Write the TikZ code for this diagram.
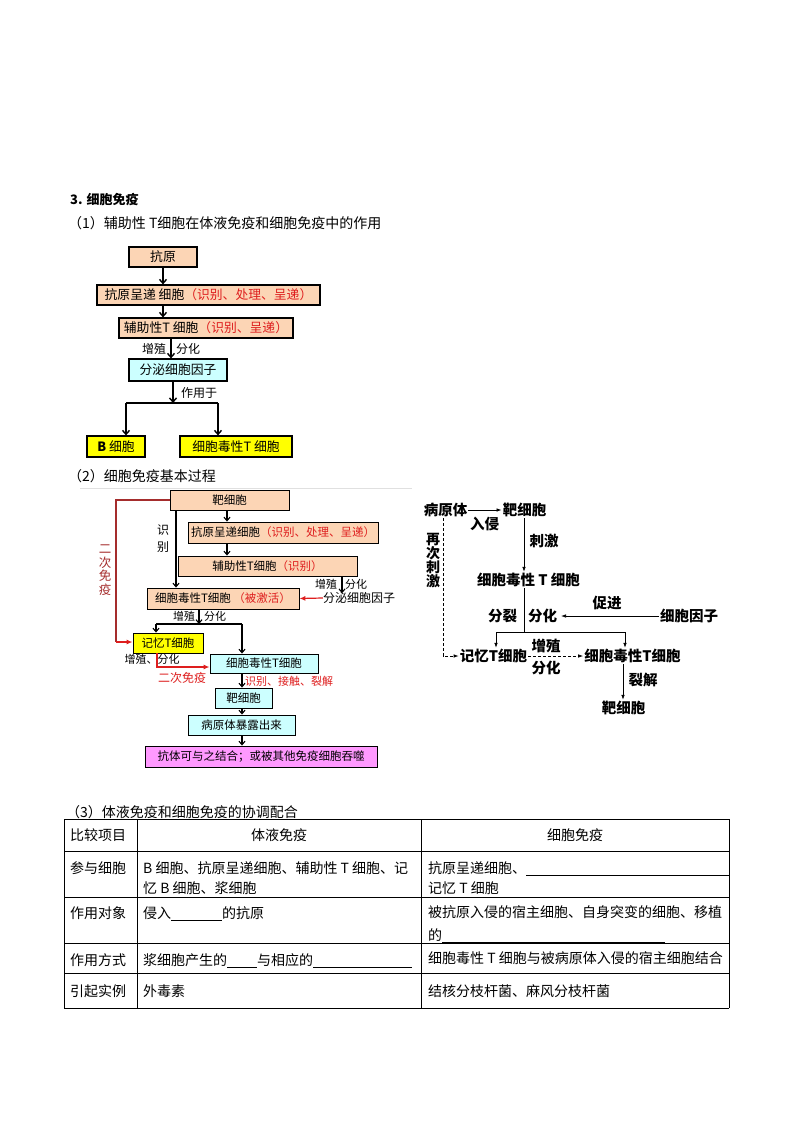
\documentclass[tikz,border=0pt]{standalone}
\usepackage{fontspec}
\setmainfont{Noto Sans CJK SC}
\usetikzlibrary{arrows.meta}
\definecolor{peach}{RGB}{252,213,181}
\definecolor{lcyan}{RGB}{204,255,255}
\definecolor{yel}{RGB}{255,255,0}
\definecolor{mag}{RGB}{255,153,255}
\definecolor{redtxt}{RGB}{222,30,30}
\definecolor{dred}{RGB}{165,45,45}
\newcommand{\rt}[1]{\textcolor{redtxt}{#1}}
\begin{document}
\begin{tikzpicture}[x=1pt,y=-1pt,
  tbox/.style={draw=black, line width=1.2pt, inner sep=0pt, font=\fontsize{12.8}{14}\selectfont},
  mbox/.style={draw=black, line width=0.9pt, inner sep=0pt, font=\fontsize{11.5}{13}\selectfont},
  tlab/.style={inner sep=0pt, font=\fontsize{12}{13}\selectfont},
  mlab/.style={inner sep=0pt, font=\fontsize{11}{12}\selectfont},
  rlab/.style={inner sep=1pt, font=\fontsize{14.5}{16}\selectfont\bfseries},
  tcell/.style={inner sep=0pt, anchor=west, font=\fontsize{14}{16}\selectfont},
  head/.style={inner sep=0pt, anchor=west, font=\fontsize{14}{16}\selectfont},
  tarr/.style={line width=1.6pt, -{Straight Barb[length=4pt,width=7pt,line width=1.4pt]}},
  tline/.style={line width=1.6pt},
  marr/.style={line width=1.1pt, -{Straight Barb[length=3.5pt,width=6pt,line width=1.1pt]}},
  mline/.style={line width=1.1pt},
  redarr/.style={line width=1.2pt, redtxt, -{Latex[length=6pt,width=5pt]}},
  rarr/.style={line width=0.7pt, -{Latex[length=5pt,width=3.5pt]}},
  rline/.style={line width=0.7pt},
  grid/.style={line width=0.8pt, black}
]
\useasboundingbox (0,0) rectangle (794,1123);
\fill[white] (0,0) rectangle (794,1123);

% ---------- headings ----------
\node[head, font=\fontsize{13}{15}\selectfont\bfseries] (h0) at (70,200) {3. 细胞免疫};
\node[head] (h1) at (68,223) {（1）辅助性 T细胞在体液免疫和细胞免疫中的作用};
\node[head] (h2) at (68,476) {（2）细胞免疫基本过程};
\node[head] (h3) at (66,812) {（3）体液免疫和细胞免疫的协调配合};

% ---------- top flowchart ----------
\node[tbox, fill=peach, minimum width=68, minimum height=20] (a1) at (163,257) {抗原};
\node[tbox, fill=peach, minimum width=223, minimum height=20] (a2) at (208.5,295) {抗原呈递 细胞\rt{（识别、处理、呈递）}};
\node[tbox, fill=peach, minimum width=174, minimum height=20] (a3) at (206,328) {辅助性T 细胞\rt{（识别、呈递）}};
\node[tbox, fill=lcyan, minimum width=98, minimum height=22] (a4) at (178,370) {分泌细胞因子};
\node[tbox, fill=yel, minimum width=58, minimum height=21] (a5) at (116,446.5) {\textbf{B} 细胞};
\node[tbox, fill=yel, minimum width=112, minimum height=21] (a6) at (236,446.5) {细胞毒性T 细胞};

\draw[tarr] (a1.south) -- (a1.south |- a2.north);
\draw[tarr] (a2.south -| a1) -- (a1 |- a3.north);
\coordinate (ja) at (171,0);
\draw[tarr] (a3.south -| ja) -- (a4.north -| ja);
\node[tlab] (l1) at (154,349) {增殖};
\node[tlab] (l2) at (188,349) {分化};
\coordinate (j1) at (173,403);
\coordinate (jl) at (126,403);
\coordinate (jr) at (218,403);
\draw[tarr] (a4.south -| j1) -- (j1);
\node[tlab] (l3) at (199,393) {作用于};
\draw[tline] (jl) -- (jr);
\draw[tarr] (jl) -- (jl |- a5.north);
\draw[tarr] (jr) -- (jr |- a6.north);

% ---------- middle-left diagram ----------
\draw[black!12, line width=0.8pt] (80,488) -- (412,488);
\node[mbox, fill=peach, minimum width=119, minimum height=20] (m1) at (229.5,500) {靶细胞};
\node[mbox, fill=peach, minimum width=190, minimum height=21] (m2) at (283,532.5) {抗原呈递细胞\rt{（识别、处理、呈递）}};
\node[mbox, fill=peach, minimum width=179, minimum height=20] (m3) at (267.5,566) {辅助性T细胞\rt{（识别）}};
\node[mbox, fill=peach, minimum width=152, minimum height=21] (m4) at (223,598.5) {细胞毒性T细胞 \rt{（被激活）}};
\node[mbox, fill=yel, minimum width=70, minimum height=20] (m5) at (168,643) {记忆T细胞};
\node[mbox, fill=lcyan, minimum width=108, minimum height=19] (m6) at (264,663.5) {细胞毒性T细胞};
\node[mbox, fill=lcyan, minimum width=57, minimum height=20] (m7) at (243.5,698) {靶细胞};
\node[mbox, fill=lcyan, minimum width=107, minimum height=20] (m8) at (241.5,725) {病原体暴露出来};
\node[mbox, fill=mag, minimum width=232, minimum height=21] (m9) at (261,756.5) {抗体可与之结合；或被其他免疫细胞吞噬};

\coordinate (xa) at (227,0);
\draw[marr] (m1.south -| xa) -- (m2.north -| xa);
\draw[marr] (m2.south -| xa) -- (m3.north -| xa);
\coordinate (xb) at (176,0);
\draw[marr] (m1.south -| xb) -- (m4.north -| xb);
\node[mlab, font=\fontsize{12}{17}\selectfont, align=center] (shib) at (163,539) {识\\别};

\node[mlab, font=\fontsize{12}{12}\selectfont] (m10) at (359,598) {分泌细胞因子};
\coordinate (xc) at (342,0);
\draw[marr] (m3.south -| xc) -- ([yshift=-1pt]m10.north -| xc);
\node[mlab] (l4) at (326,584) {增殖};
\node[mlab] (l5) at (356,584) {分化};
\draw[redarr] (m10.west) -- (m4.east);

\coordinate (j2) at (199,624);
\coordinate (j2l) at (156,624);
\coordinate (j2r) at (242,624);
\draw[marr] (m4.south -| j2) -- (j2);
\draw[mline] (j2l) -- (j2r);
\draw[marr] (j2l) -- (j2l |- m5.north);
\draw[marr] (j2r) -- (j2r |- m6.north);
\node[mlab] (l6) at (184,616) {增殖};
\node[mlab] (l7) at (215,616) {分化};

\coordinate (rc1) at (116,500);
\coordinate (rc2) at (116,642);
\draw[dred, line width=1.2pt] (m1.west |- rc1) -- (rc1) -- (rc2);
\draw[redarr] (rc2) -- (m5.west |- rc2);
\node[mlab, text=dred, font=\fontsize{12.5}{13.5}\selectfont, align=center] (erci) at (105,570) {二\\次\\免\\疫};

\coordinate (rc3) at (157,667);
\draw[redarr] (m5.south -| rc3) -- (rc3) -- (m6.west |- rc3);
\node[mlab] (l8) at (152,659) {增殖、分化};
\node[mlab, text=redtxt, font=\fontsize{12}{13}\selectfont] (l9) at (182,678) {二次免疫};

\coordinate (xd) at (242,0);
\draw[marr] (m6.south -| xd) -- (m7.north -| xd);
\node[mlab, anchor=west, text=redtxt] (l10) at (245,681) {识别、接触、裂解};
\draw[marr] (m7.south -| xd) -- (m8.north -| xd);
\draw[marr] (m8.south -| xd) -- (m9.north -| xd);

% ---------- right diagram ----------
\node[rlab] (r1) at (445.5,510) {病原体};
\node[rlab] (r2) at (524.5,510) {靶细胞};
\node[rlab] (r3) at (528.5,580) {细胞毒性 T 细胞};
\node[rlab] (r4) at (689,616) {细胞因子};
\node[rlab] (r5) at (493.5,656) {记忆T细胞};
\node[rlab] (r6) at (632.5,656) {细胞毒性T细胞};
\node[rlab] (r7) at (623.5,708) {靶细胞};

\draw[rarr] (r1.east) -- (r2.west);
\node[rlab] (q1) at (484.5,524) {入侵};
\coordinate (xr) at (524,0);
\draw[rarr] (r2.south -| xr) -- (r3.north -| xr);
\node[rlab] (q2) at (544,541) {刺激};
\coordinate (k1) at (524,632);
\coordinate (kl) at (496,632);
\coordinate (kr) at (625,632);
\draw[rline] (r3.south -| k1) -- (k1);
\draw[rline] (kl) -- (kr);
\draw[rarr] (kl) -- (kl |- r5.north);
\draw[rarr] (kr) -- (kr |- r6.north);
\node[rlab] (q3) at (502.5,616) {分裂};
\node[rlab] (q4) at (542.5,616) {分化};
\coordinate (k2) at (561,616);
\draw[rarr] (r4.west) -- (k2);
\node[rlab] (q5) at (607,603) {促进};
\draw[rarr, dashed, dash pattern=on 3pt off 2pt] (r5.east) -- (r6.west);
\node[rlab] (q6) at (546,646) {增殖};
\node[rlab] (q7) at (546,668) {分化};
\coordinate (k3) at (443,656);
\draw[rarr, dashed, dash pattern=on 3pt off 2pt] (r1.south -| k3) -- (k3) -- (r5.west);
\node[rlab, align=center, font=\fontsize{14}{14}\selectfont\bfseries] (q8) at (433,561) {再\\次\\刺\\激};
\coordinate (xr2) at (623,0);
\draw[rarr] (r6.south -| xr2) -- (r7.north -| xr2);
\node[rlab] (q9) at (643,680) {裂解};

% ---------- table ----------
\foreach \yy in {819,851,897,943,973,1008} \draw[grid] (64,\yy) -- (729,\yy);
\foreach \xx in {64,137,421,729} \draw[grid] (\xx,819) -- (\xx,1008);

\node[tcell] (c11) at (70,835) {比较项目};
\node[tcell, anchor=center] (c12) at (279,835) {体液免疫};
\node[tcell, anchor=center] (c13) at (575,835) {细胞免疫};

\node[tcell] (c21) at (70,868) {参与细胞};
\node[tcell] (c22a) at (143,868) {B 细胞、抗原呈递细胞、辅助性 T 细胞、记};
\node[tcell] (c22b) at (143,888) {忆 B 细胞、浆细胞};
\node[tcell] (c23a) at (428,868) {抗原呈递细胞、};
\draw[grid, line width=0.7pt] (c23a.east |- 0,875) -- (729,875);
\node[tcell] (c23b) at (428,888) {记忆 T 细胞};

\node[tcell] (c31) at (70,913) {作用对象};
\node[tcell] (c32a) at (143,913) {侵入};
\node[tcell] (c32b) at (222,913) {的抗原};
\draw[grid, line width=0.7pt] (c32a.east |- 0,920) -- (c32b.west |- 0,920);
\node[tcell] (c33a) at (428,912) {被抗原入侵的宿主细胞、自身突变的细胞、移植};
\node[tcell] (c33b) at (428,935) {的};
\draw[grid, line width=0.7pt] (c33b.east |- 0,942) -- (665,942);

\node[tcell] (c41) at (70,960) {作用方式};
\node[tcell] (c42a) at (143,960) {浆细胞产生的};
\node[tcell] (c42b) at (257,960) {与相应的};
\draw[grid, line width=0.7pt] (c42a.east |- 0,967) -- (c42b.west |- 0,967);
\draw[grid, line width=0.7pt] (c42b.east |- 0,967) -- (412,967);
\node[tcell] (c43) at (428,958) {细胞毒性 T 细胞与被病原体入侵的宿主细胞结合};

\node[tcell] (c51) at (70,991) {引起实例};
\node[tcell] (c52) at (143,991) {外毒素};
\node[tcell] (c53) at (428,991) {结核分枝杆菌、麻风分枝杆菌};
\end{tikzpicture}
\end{document}
